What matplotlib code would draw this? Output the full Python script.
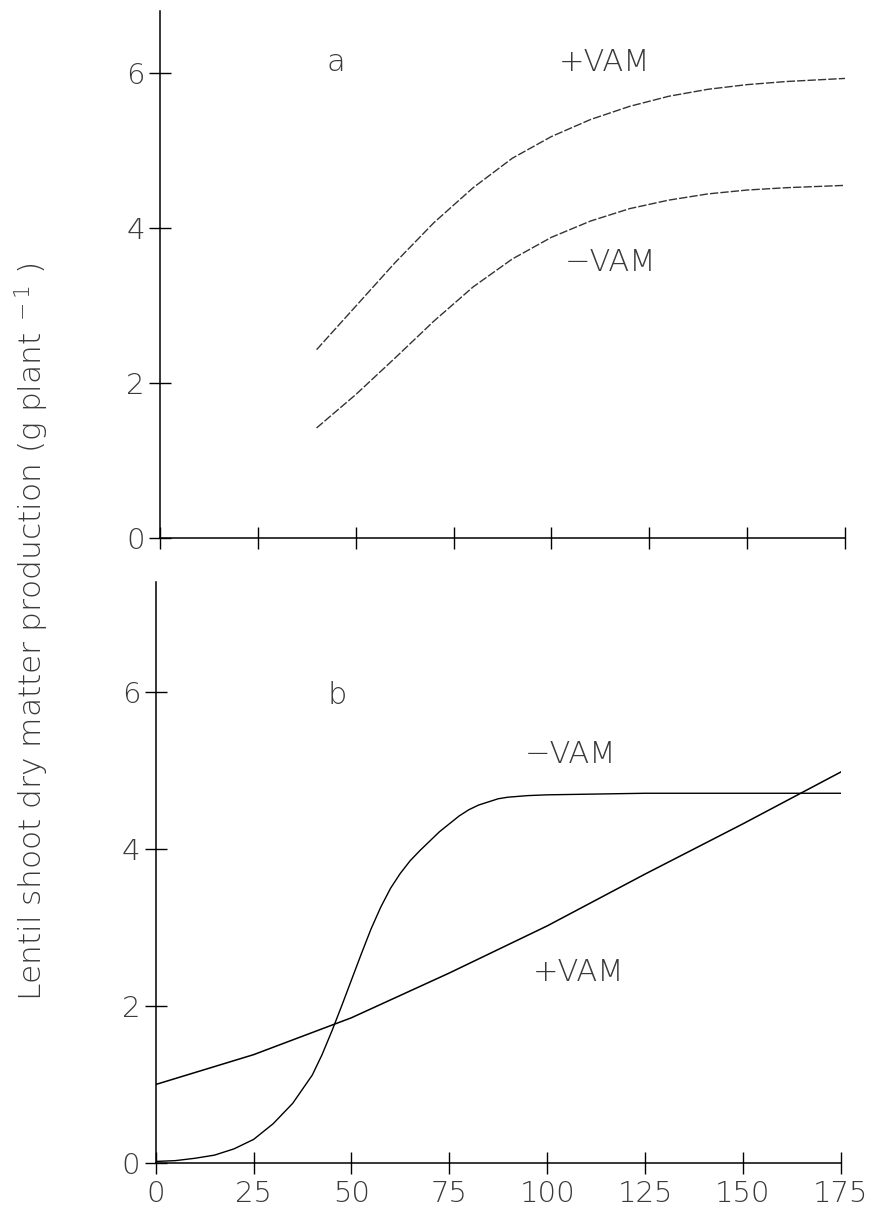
import numpy as np
import matplotlib
matplotlib.use('Agg')
import matplotlib.pyplot as plt

plt.rcParams['font.family'] = ['DejaVu Sans']
plt.rcParams['mathtext.default'] = 'regular'

# Panel a
xa = [40, 50, 60, 70, 80, 90, 100, 110, 120, 130, 140, 150, 160, 175]
a_plus = [2.43, 2.99, 3.55, 4.07, 4.52, 4.9, 5.18, 5.4, 5.57, 5.7, 5.79, 5.85, 5.89, 5.93]
a_minus = [1.42, 1.85, 2.32, 2.8, 3.24, 3.6, 3.88, 4.09, 4.25, 4.36, 4.44, 4.49, 4.52, 4.55]

# Panel b
xb_plus = [0, 25, 50, 75, 100, 125, 150, 175]
b_plus = [1.0, 1.38, 1.85, 2.42, 3.02, 3.68, 4.32, 4.98]
xb_minus = [0, 5, 10, 15, 20, 25, 30, 35, 40, 42.5, 45, 47.5, 50, 52.5, 55, 57.5, 60, 62.5,
            65, 67.5, 70, 72.5, 75, 77.5, 80, 82.5, 85, 87.5, 90, 95, 100, 125, 150, 175]
b_minus = [0.02, 0.03, 0.06, 0.1, 0.18, 0.30, 0.5, 0.76, 1.12, 1.38, 1.68, 2.0, 2.33, 2.66,
           2.98, 3.26, 3.5, 3.69, 3.85, 3.98, 4.1, 4.22, 4.32, 4.42, 4.5, 4.56, 4.6, 4.64,
           4.66, 4.68, 4.69, 4.71, 4.71, 4.71]

xticks = [0, 25, 50, 75, 100, 125, 150, 175]
yticks = [0, 2, 4, 6]

fig = plt.figure(figsize=(8.75, 12.15), dpi=100)
ax1 = fig.add_axes([160/875, 1 - 538/1215, 685/875, 6.8*77.5/1215])
ax2 = fig.add_axes([155.7/875, 1 - 1163/1215, 685/875, 7.4*78.5/1215])

txt = '#3a3a3a'
for ax in (ax1, ax2):
    for s in ('top', 'right'):
        ax.spines[s].set_visible(False)
    for s in ('left', 'bottom'):
        ax.spines[s].set_linewidth(1.1)
    ax.set_xlim(0, 175)
    ax.set_xticks(xticks)
    ax.set_yticks(yticks)
    ax.tick_params(direction='inout', length=16, width=1.0, labelsize=21,
                   colors='black', labelcolor=txt)
    ax.tick_params(axis='y', pad=3)
    ax.tick_params(axis='x', pad=4)
    for lab in ax.get_xticklabels() + ax.get_yticklabels():
        lab.set_fontweight('light')

ax1.set_ylim(0, 6.8)
ax2.set_ylim(0, 7.4)
ax1.tick_params(axis='x', labelbottom=False)

ax1.plot(xa, a_plus, color='#333333', lw=1.0, linestyle=(0, (6, 1.5)))
ax1.plot(xa, a_minus, color='#333333', lw=1.0, linestyle=(0, (6, 1.5)))
ax2.plot(xb_plus, b_plus, color='black', lw=1.1)
ax2.plot(xb_minus, b_minus, color='black', lw=1.0)

fs = 22
kw = dict(fontsize=fs, color=txt, ha='center', va='center', fontweight='light')
ax1.text(45, 6.14, 'a', **kw)
ax1.text(113.7, 6.14, '+VAM', **kw)
ax1.text(115, 3.56, '\u2212VAM', **kw)
ax2.text(46.3, 5.96, 'b', **kw)
ax2.text(106, 5.2, '\u2212VAM', **kw)
ax2.text(108, 2.43, '+VAM', **kw)

fig.text(32/875, 1 - 632/1215, r'Lentil shoot dry matter production (g plant$^{\ -1}$ )',
         rotation=90, fontsize=22.5, color=txt, ha='center', va='center', fontweight='light')

fig.savefig('out.png', dpi=100, facecolor='white')
